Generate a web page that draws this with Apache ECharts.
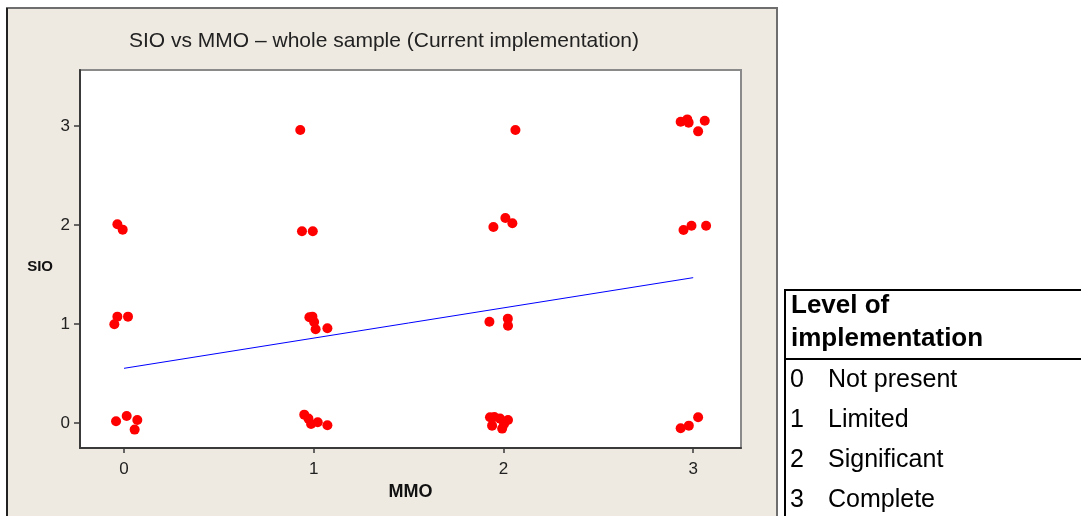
<!DOCTYPE html>
<html>
<head>
<meta charset="utf-8">
<title>SIO vs MMO</title>
<script src="https://cdn.jsdelivr.net/npm/echarts@6/dist/echarts.min.js"></script>
<style>
    html, body { margin: 0; padding: 0; background: #fff; }
    #main { width: 1081px; height: 516px; }
</style>
</head>
<body>
<div id="main"></div>
<script>
// jittered points (MMO on x, SIO on y)
var mmoValues = [
    -0.035, -0.007, -0.035, -0.051, 0.021, -0.042, 0.014, 0.070, 0.056,
    0.929, 0.938, 0.995, 0.977, 0.993, 1.002, 1.010, 1.072, 0.950, 0.972, 0.986, 1.021, 1.072,
    2.063, 1.947, 2.010, 2.047, 1.926, 2.023, 2.024, 1.929, 1.952, 1.940, 1.982, 1.993, 2.003, 2.024,
    2.934, 2.969, 2.976, 3.061, 3.026, 2.949, 2.991, 3.068, 2.934, 2.977, 3.026
];
var sioValues = [
    2.007, 1.953, 1.074, 0.997, 1.074, 0.017, 0.071, 0.030, -0.067,
    2.960, 1.936, 1.936, 1.068, 1.074, 1.020, 0.946, 0.956, 0.084, 0.044, -0.010, 0.007, -0.024,
    2.960, 1.980, 2.071, 2.017, 1.023, 1.054, 0.983, 0.057, 0.061, -0.027, 0.044, -0.057, -0.010, 0.030,
    3.044, 3.067, 3.034, 3.054, 2.946, 1.949, 1.993, 1.993, -0.054, -0.027, 0.057
];
// fitted line end points
var fitLine = [[0, 0.552], [3, 1.468]];
var tickValues = [0, 1, 2, 3];

var legendTitle = ['Level of', 'implementation'];
var levelCodes = ['0', '1', '2', '3'];
var levelNames = ['Not present', 'Limited', 'Significant', 'Complete'];

var chart = echarts.init(document.getElementById('main'));

var points = [];
for (var i = 0; i < mmoValues.length; i++) {
    points.push([mmoValues[i], sioValues[i]]);
}

var graphics = [
    {
        type: 'rect',
        z: -10,
        shape: { x: 7, y: 8, width: 770, height: 530 },
        style: { fill: '#eeeae1', stroke: '#6e6e6e', lineWidth: 2 }
    },
    {
        type: 'line',
        shape: { x1: 7, y1: 8, x2: 7, y2: 516 },
        style: { stroke: '#222', lineWidth: 2 }
    },
    {
        type: 'rect',
        shape: { x: 785, y: 290, width: 400, height: 300 },
        style: { fill: 'none', stroke: '#000', lineWidth: 2 }
    },
    {
        type: 'line',
        shape: { x1: 785, y1: 359, x2: 1081, y2: 359 },
        style: { stroke: '#000', lineWidth: 2 }
    }
];

legendTitle.forEach(function (txt, k) {
    graphics.push({
        type: 'text',
        x: 791,
        y: 306 + k * 33,
        style: {
            text: txt,
            font: 'bold 26px "Liberation Sans", Arial, sans-serif',
            fill: '#000',
            verticalAlign: 'middle'
        }
    });
});

levelNames.forEach(function (name, k) {
    var y = 380 + k * 40;
    graphics.push({
        type: 'text',
        x: 790,
        y: y,
        style: {
            text: levelCodes[k],
            font: '25px "Liberation Sans", Arial, sans-serif',
            fill: '#000',
            verticalAlign: 'middle'
        }
    });
    graphics.push({
        type: 'text',
        x: 828,
        y: y,
        style: {
            text: name,
            font: '25px "Liberation Sans", Arial, sans-serif',
            fill: '#000',
            verticalAlign: 'middle'
        }
    });
});

var option = {
    animation: false,
    backgroundColor: '#fff',
    title: {
        text: 'SIO vs MMO \u2013 whole sample (Current implementation)',
        left: 129,
        top: 31,
        padding: 0,
        textStyle: {
            fontFamily: '"Liberation Sans", Arial, sans-serif',
            fontSize: 21,
            fontWeight: 'normal',
            color: '#222',
            lineHeight: 21
        }
    },
    grid: {
        left: 80,
        top: 70,
        right: 340,
        bottom: 68,
        show: true,
        backgroundColor: '#fff',
        borderColor: '#8a8a8a',
        borderWidth: 2
    },
    xAxis: {
        type: 'value',
        min: -0.232,
        max: 3.252,
        name: 'MMO',
        nameLocation: 'middle',
        nameGap: 32,
        nameTextStyle: {
            fontFamily: '"Liberation Sans", Arial, sans-serif',
            fontSize: 18,
            fontWeight: 'bold',
            color: '#111'
        },
        axisLine: { onZero: false, lineStyle: { color: '#3a3a3a', width: 2 } },
        axisTick: { length: 5, customValues: tickValues, lineStyle: { color: '#3a3a3a', width: 1.5 } },
        axisLabel: {
            customValues: tickValues,
            margin: 13,
            fontFamily: '"Liberation Sans", Arial, sans-serif',
            fontSize: 17,
            color: '#222'
        },
        splitLine: { show: false }
    },
    yAxis: {
        type: 'value',
        min: -0.253,
        max: 3.566,
        name: 'SIO',
        nameLocation: 'middle',
        nameRotate: 0,
        nameGap: 27,
        nameTextStyle: {
            fontFamily: '"Liberation Sans", Arial, sans-serif',
            fontSize: 15,
            fontWeight: 'bold',
            color: '#111',
            verticalAlign: 'top'
        },
        axisLine: { show: true, onZero: false, lineStyle: { color: '#3a3a3a', width: 2 } },
        axisTick: { show: true, length: 6, customValues: tickValues, lineStyle: { color: '#3a3a3a', width: 1.5 } },
        axisLabel: {
            customValues: tickValues,
            margin: 10,
            fontFamily: '"Liberation Sans", Arial, sans-serif',
            fontSize: 17,
            color: '#222'
        },
        splitLine: { show: false }
    },
    graphic: graphics,
    series: [
        {
            type: 'scatter',
            data: points,
            symbol: 'circle',
            symbolSize: 10,
            itemStyle: { color: '#ff0000', opacity: 1 }
        },
        {
            type: 'line',
            data: fitLine,
            symbol: 'none',
            lineStyle: { color: '#0000ff', width: 1 }
        }
    ]
};

chart.setOption(option);
</script>
</body>
</html>
